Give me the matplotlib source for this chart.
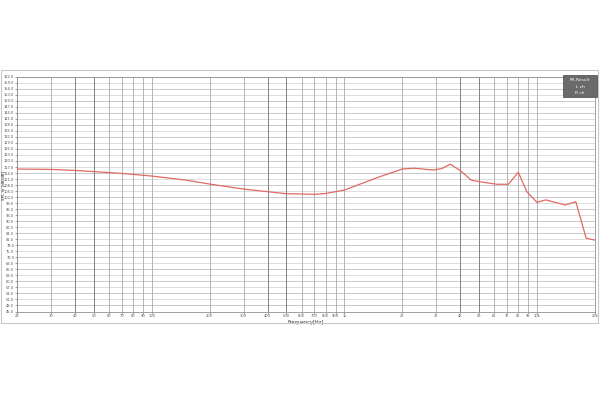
import numpy as np
import matplotlib.pyplot as plt
from matplotlib.patches import Rectangle

# frequency response (Hz, dB)
freq = [20, 30, 40, 50, 70, 100, 150, 200, 300, 400, 500, 700, 800, 1000,
        1500, 2000, 2300, 2900, 3200, 3550, 4000, 4550, 5000, 6200, 7100,
        8000, 8850, 10000, 11100, 14000, 15900, 18000, 20000]
spl = [116.0, 115.8, 115.3, 114.7, 113.8, 112.5, 110.5, 108.5, 106.0, 104.7,
       103.7, 103.4, 103.8, 105.5, 111.9, 116.0, 116.4, 115.5, 116.2, 118.4,
       115.2, 110.5, 109.7, 108.4, 108.4, 114.4, 104.7, 99.4, 100.6, 98.1,
       99.7, 81.5, 80.6]

xticks = [20, 30, 40, 50, 60, 70, 80, 90, 100, 200, 300, 400, 500, 600, 700,
          800, 900, 1000, 2000, 3000, 4000, 5000, 6000, 7000, 8000, 9000,
          10000, 20000]
xlabels = ['20', '30', '40', '50', '60', '70', '80', '90', '100', '200', '300',
           '400', '500', '600', '700', '800', '900', '1k', '2k', '3k', '4k',
           '5k', '6k', '7k', '8k', '9k', '10k', '20k']
yticks = np.arange(45, 163, 3)
legend_lines = ['FR-Result', 'L ch', 'R ch']

fig = plt.figure(figsize=(6, 4), dpi=100)
fig.patch.set_facecolor('white')

# outer frame of the measurement window
fig.patches.append(Rectangle((0.5/600, 1-323/400), 597.5/600, 253/400,
                             transform=fig.transFigure, fill=False,
                             edgecolor='#c8c8c8', lw=0.8))

ax = fig.add_axes([17/600, 1-311.5/400, 578/600, 234.8/400])
ax.set_xscale('log')
ax.set_xlim(20, 20000)
ax.set_ylim(45, 162)

for i, y in enumerate(yticks):
    ax.axhline(y, color='#c0c0c0' if i % 2 else '#d8d8d8', lw=0.6, zorder=1)
for i, x in enumerate(xticks):
    dark = x in (40, 400, 4000, 50, 500, 5000)
    ax.axvline(x, color='#707070' if dark else '#a8a8a8', lw=0.6, zorder=1)

ax.plot(freq, spl, color='#e06a60', lw=0.9, zorder=3)

ax.set_xticks(xticks)
ax.set_xticklabels(xlabels)
ax.xaxis.set_minor_locator(plt.NullLocator())
ax.set_yticks(yticks)
ax.set_yticklabels(['%.1f' % v for v in yticks])
ax.tick_params(axis='both', labelsize=2.6, colors='#555555', length=1.2,
               width=0.4, pad=0.8)

for s in ax.spines.values():
    s.set_color('#909090')
    s.set_linewidth(0.6)

ax.set_xlabel('Frequency[Hz]', fontsize=3.6, color='#333333', labelpad=1)
fig.text(3/600, 1-185/400, 'SPL in [dB/dB]', fontsize=3.0, color='#333333',
         rotation=90, ha='center', va='center')

# legend box in the top right corner
fig.patches.append(Rectangle((563/600, 1-97/400), 34/600, 22/400,
                             transform=fig.transFigure, facecolor='#6a6a6a',
                             edgecolor='#444444', lw=0.5, zorder=5))
for i, t in enumerate(legend_lines):
    fig.text(580/600, 1-(80 + i*6.5)/400, t, fontsize=3.2, color='white',
             ha='center', va='center', zorder=6)

fig.savefig('out.png', dpi=100)
